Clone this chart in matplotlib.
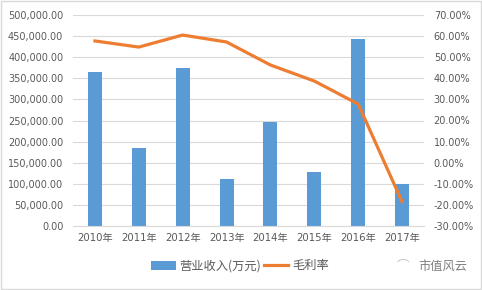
import matplotlib.pyplot as plt
from matplotlib.ticker import FuncFormatter
from matplotlib.patches import Rectangle

plt.rcParams['font.family'] = ['Noto Sans CJK SC', 'DejaVu Sans']

years = ['2010年', '2011年', '2012年', '2013年', '2014年', '2015年', '2016年', '2017年']
revenue = [365000, 185000, 374000, 111000, 246000, 128000, 443000, 100000]
margin = [57.7, 54.8, 60.5, 57.2, 46.3, 38.7, 27.8, -18.5]

blue = '#5B9BD5'
orange = '#ED7D31'
txt = '#595959'
numfont = ['DejaVu Sans', 'Noto Sans CJK SC']

fig = plt.figure(figsize=(4.82, 2.9), dpi=100)
ax = fig.add_axes([73 / 482, 1 - 226 / 290, 351 / 482, 211 / 290])
x = range(len(years))
bars = ax.bar(x, revenue, width=0.32, color=blue, zorder=2, label='营业收入(万元)')
ax.set_xlim(-0.5, len(years) - 0.5)
ax.set_ylim(0, 500000)
ax.set_yticks(range(0, 500001, 50000))
ax.yaxis.set_major_formatter(FuncFormatter(lambda v, p: f'{v:,.2f}'))
ax.grid(axis='y', color='#D9D9D9', linewidth=0.8, zorder=0)
ax.set_xticks(list(x))
ax.set_xticklabels(years)
for s in ax.spines.values():
    s.set_visible(False)
ax.spines['bottom'].set_visible(True)
ax.spines['bottom'].set_color('#D9D9D9')
ax.tick_params(axis='y', length=0, labelsize=7, colors=txt, pad=7)
ax.tick_params(axis='x', length=0, labelsize=7.3, colors=txt, pad=5)
for t in ax.get_yticklabels() + ax.get_xticklabels():
    t.set_fontfamily(numfont)

ax2 = ax.twinx()
line, = ax2.plot(list(x), margin, color=orange, linewidth=2.3, zorder=3, label='毛利率',
                 solid_joinstyle='round')
ax2.set_ylim(-30, 70)
ax2.set_yticks(range(-30, 71, 10))
ax2.yaxis.set_major_formatter(FuncFormatter(lambda v, p: f'{v:.2f}%'))
for s in ax2.spines.values():
    s.set_visible(False)
ax2.tick_params(length=0, labelsize=7, colors=txt, pad=7)
for t in ax2.get_yticklabels():
    t.set_fontfamily(numfont)

fig.legend(handles=[bars, line], loc='center', bbox_to_anchor=(240 / 482, 1 - 266 / 290),
           ncol=2, frameon=False, fontsize=8.8, labelcolor=txt, handlelength=2.0,
           handletextpad=0.3, columnspacing=0.2)
fig.text(443 / 482, 1 - 266 / 290, '市值风云', fontsize=8.8, color='#7F7F7F', ha='center', va='center')
fig.text(403 / 482, 1 - 266 / 290, '⌒', fontsize=9, color='#BFBFBF', ha='center', va='center')

fig.patches.append(Rectangle((0.002, 0.003), 0.996, 0.994, transform=fig.transFigure,
                             fill=False, edgecolor='#D9D9D9', linewidth=1))

fig.savefig('out.png', dpi=100)
